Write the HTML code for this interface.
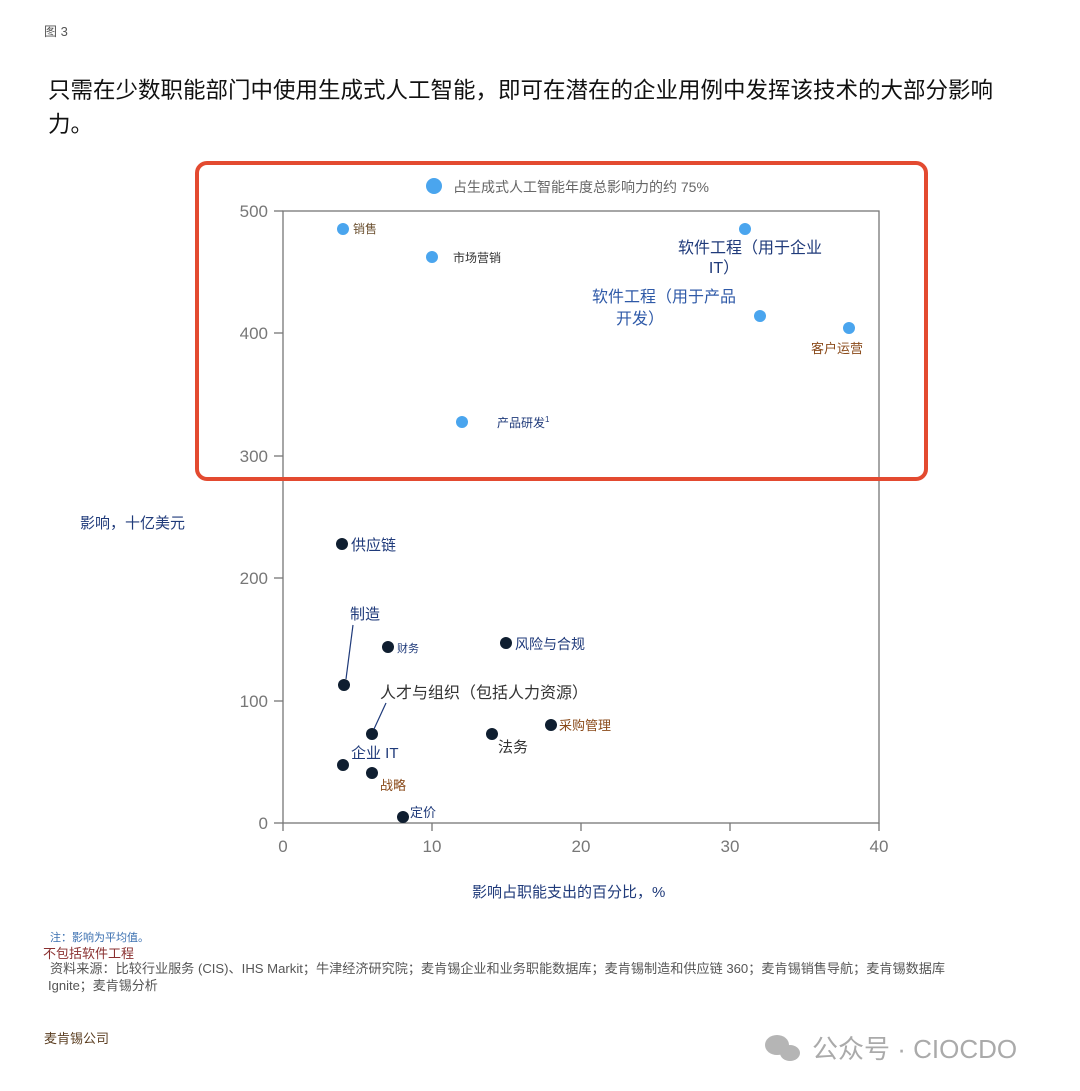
<!DOCTYPE html>
<html><head><meta charset="utf-8"><style>
body{margin:0;background:#fff;}
svg{display:block;font-family:"Liberation Sans","Noto Sans CJK SC",sans-serif;}
</style></head><body>
<svg width="1080" height="1091" viewBox="0 0 1080 1091" xmlns="http://www.w3.org/2000/svg">
<text x="44" y="36" font-size="13" fill="#555">图 3</text>
<text x="48" y="98" font-size="22.5" fill="#111">只需在少数职能部门中使用生成式人工智能，即可在潜在的企业用例中发挥该技术的大部分影响</text>
<text x="48" y="132" font-size="22.5" fill="#111">力。</text>
<g stroke="#777" stroke-width="1.3" fill="none">
<rect x="283" y="211" width="596" height="612"/>
<line x1="274" y1="211" x2="283" y2="211"/><line x1="274" y1="333" x2="283" y2="333"/><line x1="274" y1="456" x2="283" y2="456"/><line x1="274" y1="578" x2="283" y2="578"/><line x1="274" y1="701" x2="283" y2="701"/><line x1="274" y1="823" x2="283" y2="823"/>
<line x1="283" y1="823" x2="283" y2="831"/><line x1="432" y1="823" x2="432" y2="831"/><line x1="581" y1="823" x2="581" y2="831"/><line x1="730" y1="823" x2="730" y2="831"/><line x1="879" y1="823" x2="879" y2="831"/>
</g>
<g font-size="17" fill="#777" text-anchor="end">
<text x="268" y="217">500</text><text x="268" y="339">400</text><text x="268" y="462">300</text><text x="268" y="584">200</text><text x="268" y="707">100</text><text x="268" y="829">0</text>
</g>
<g font-size="17" fill="#777" text-anchor="middle">
<text x="283" y="852">0</text><text x="432" y="852">10</text><text x="581" y="852">20</text><text x="730" y="852">30</text><text x="879" y="852">40</text>
</g>
<text x="80" y="528" font-size="15" fill="#1f3a7a">影响，十亿美元</text>
<text x="472" y="897" font-size="15" fill="#1f3a7a">影响占职能支出的百分比，%</text>
<circle cx="434" cy="186" r="8" fill="#4aa5ee"/>
<text x="453" y="192" font-size="14" fill="#666">占生成式人工智能年度总影响力的约 75%</text>
<g fill="#4aa5ee">
<circle cx="343" cy="229" r="6"/><circle cx="432" cy="257" r="6"/><circle cx="745" cy="229" r="6"/><circle cx="760" cy="316" r="6"/><circle cx="849" cy="328" r="6"/><circle cx="462" cy="422" r="6"/>
</g>
<text x="353" y="233" font-size="12" fill="#6b5030">销售</text>
<text x="453" y="262" font-size="12" fill="#333">市场营销</text>
<text x="497" y="427" font-size="12" fill="#1f3a7a">产品研发<tspan font-size="8" dy="-5">1</tspan></text>
<g font-size="16" fill="#1f3a7a" text-anchor="middle">
<text x="750" y="253">软件工程（用于企业</text><text x="724" y="273">IT）</text>
</g>
<g font-size="16" fill="#2f5aa8" text-anchor="middle">
<text x="664" y="302">软件工程（用于产品</text><text x="640" y="324">开发）</text>
</g>
<text x="837" y="353" font-size="13" fill="#8a4a1a" text-anchor="middle">客户运营</text>
<g fill="#0f1e30">
<circle cx="342" cy="544" r="6"/><circle cx="344" cy="685" r="6"/><circle cx="388" cy="647" r="6"/><circle cx="506" cy="643" r="6"/><circle cx="372" cy="734" r="6"/><circle cx="551" cy="725" r="6"/><circle cx="492" cy="734" r="6"/><circle cx="343" cy="765" r="6"/><circle cx="372" cy="773" r="6"/><circle cx="403" cy="817" r="6"/>
</g>
<g stroke="#1f3a7a" stroke-width="1.2"><line x1="346" y1="679" x2="353" y2="625"/><line x1="374" y1="729" x2="386" y2="703"/></g>
<text x="351" y="550" font-size="15" fill="#1f3a7a">供应链</text>
<text x="350" y="619" font-size="15" fill="#1f3a7a">制造</text>
<text x="397" y="652" font-size="11" fill="#1f3a7a">财务</text>
<text x="515" y="649" font-size="14" fill="#1f3a7a">风险与合规</text>
<text x="380" y="698" font-size="16" fill="#333">人才与组织（包括人力资源）</text>
<text x="559" y="730" font-size="13" fill="#8a4a1a">采购管理</text>
<text x="498" y="752" font-size="15" fill="#333">法务</text>
<text x="351" y="758" font-size="15" fill="#1f3a7a">企业 IT</text>
<text x="380" y="790" font-size="13" fill="#8a4a1a">战略</text>
<text x="410" y="817" font-size="13" fill="#1f3a7a">定价</text>
<rect x="197" y="163" width="729" height="316" rx="10" fill="none" stroke="#e34a30" stroke-width="4"/>
<text x="50" y="941" font-size="11" fill="#3a6fb0">注：影响为平均值。</text>
<text x="43" y="958" font-size="13" fill="#8a3030">不包括软件工程</text>
<text x="50" y="973" font-size="13" fill="#555" textLength="895" lengthAdjust="spacingAndGlyphs">资料来源：比较行业服务 (CIS)、IHS Markit；牛津经济研究院；麦肯锡企业和业务职能数据库；麦肯锡制造和供应链 360；麦肯锡销售导航；麦肯锡数据库</text>
<text x="48" y="990" font-size="13" fill="#555">Ignite；麦肯锡分析</text>
<text x="44" y="1043" font-size="13" fill="#5a3d20">麦肯锡公司</text>
<g fill="#b5b5b5"><ellipse cx="777" cy="1045" rx="12" ry="10"/><ellipse cx="790" cy="1053" rx="10" ry="8"/></g>
<text x="812" y="1058" font-size="26" fill="#aaa">公众号 · CIOCDO</text>
</svg>
</body></html>
